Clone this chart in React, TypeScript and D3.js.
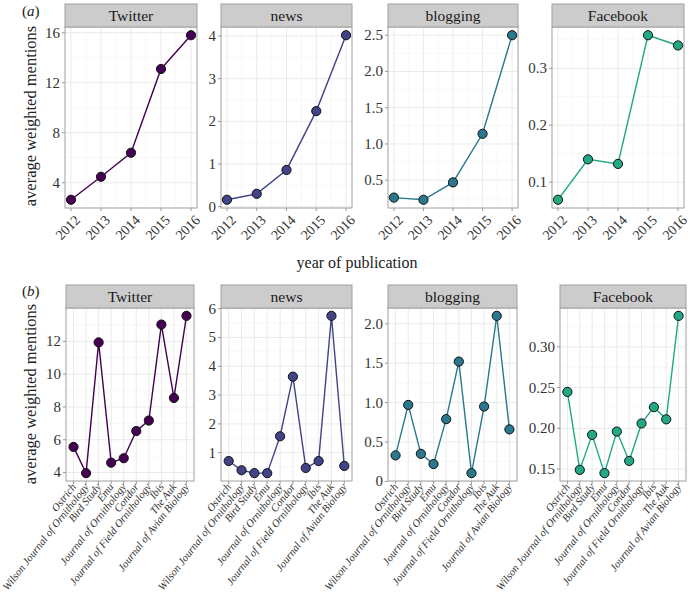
import React from 'react';
import * as d3 from 'd3';

// (a) by year of publication
const years = [2012, 2013, 2014, 2015, 2016];
const yearTwitter = [2.64, 4.48, 6.4, 13.1, 15.8];
const yearNews = [0.16, 0.3, 0.86, 2.24, 4.02];
const yearBlogging = [0.26, 0.23, 0.47, 1.14, 2.5];
const yearFacebook = [0.069, 0.14, 0.132, 0.358, 0.34];

// (b) by journal
const journals = [
  'Ostrich', 'Wilson Journal of Ornithology', 'Bird Study', 'Emu',
  'Journal of Ornithology', 'Condor', 'Journal of Field Ornithology',
  'Ibis', 'The Auk', 'Journal of Avian Biology',
];
const journalTwitter = [5.56, 3.96, 11.94, 4.6, 4.87, 6.53, 7.17, 13.03, 8.55, 13.56];
const journalNews = [0.71, 0.39, 0.29, 0.29, 1.57, 3.64, 0.47, 0.71, 5.75, 0.54];
const journalBlogging = [0.33, 0.97, 0.35, 0.22, 0.79, 1.52, 0.105, 0.95, 2.1, 0.66];
const journalFacebook = [0.2447, 0.149, 0.192, 0.145, 0.196, 0.16, 0.206, 0.226, 0.211, 0.338];

const mediaNames = ['Twitter', 'news', 'blogging', 'Facebook'];
const mediaColors = ['#440154', '#414487', '#2A788E', '#22A884'];

const yearTicks = [[4, 8, 12, 16], [0, 1, 2, 3, 4], [0.5, 1, 1.5, 2, 2.5], [0.1, 0.2, 0.3]];
const yearTickLabels = [['4', '8', '12', '16'], ['0', '1', '2', '3', '4'], ['0.5', '1.0', '1.5', '2.0', '2.5'], ['0.1', '0.2', '0.3']];
const journalTicks = [[4, 6, 8, 10, 12], [1, 2, 3, 4, 5, 6], [0, 0.5, 1, 1.5, 2], [0.15, 0.2, 0.25, 0.3]];
const journalTickLabels = [['4', '6', '8', '10', '12'], ['1', '2', '3', '4', '5', '6'], ['0', '0.5', '1.0', '1.5', '2.0'], ['0.15', '0.20', '0.25', '0.30']];

const FONT = 'Liberation Serif';

type PanelProps = {
  x0: number; x1: number; stripTop: number; plotTop: number; plotBottom: number;
  name: string; color: string; xs: (number | string)[]; ys: number[];
  ticks: number[]; tickLabels: string[]; discrete: boolean;
};

function Panel(p: PanelProps) {
  const ext = d3.extent(p.ys) as [number, number];
  const pad = (ext[1] - ext[0]) * 0.05;
  const y = d3.scaleLinear().domain([ext[0] - pad, ext[1] + pad]).range([p.plotBottom, p.plotTop]);
  const [lo, hi] = y.domain();
  const step = p.ticks[1] - p.ticks[0];
  const minorY = [p.ticks[0] - step / 2, ...p.ticks.map(t => t + step / 2)].filter(v => v >= lo && v <= hi);

  let xPos: (v: number | string) => number;
  const xMajor: (number | string)[] = p.xs;
  let xMinor: number[] = [];
  if (p.discrete) {
    const xs = d3.scalePoint<string>().domain(p.xs as string[]).range([p.x0, p.x1]).padding(0.6);
    xPos = v => xs(v as string) as number;
  } else {
    const nums = p.xs as number[];
    const e = d3.extent(nums) as [number, number];
    const xp = (e[1] - e[0]) * 0.05;
    const xl = d3.scaleLinear().domain([e[0] - xp, e[1] + xp]).range([p.x0, p.x1]);
    xPos = v => xl(v as number);
    xMinor = nums.slice(1).map(v => v - 0.5);
  }

  const line = d3.line<number>().x((_, i) => xPos(p.xs[i])).y(d => y(d));

  return (
    <g fontFamily={FONT}>
      <rect x={p.x0} y={p.plotTop} width={p.x1 - p.x0} height={p.plotBottom - p.plotTop} fill="#fff" />
      {minorY.map((v, i) => (
        <line key={'my' + i} x1={p.x0} x2={p.x1} y1={y(v)} y2={y(v)} stroke="#f3f3f3" strokeWidth={0.6} />
      ))}
      {xMinor.map((v, i) => (
        <line key={'mx' + i} x1={xPos(v)} x2={xPos(v)} y1={p.plotTop} y2={p.plotBottom} stroke="#f3f3f3" strokeWidth={0.6} />
      ))}
      {p.ticks.map((v, i) => (
        <line key={'gy' + i} x1={p.x0} x2={p.x1} y1={y(v)} y2={y(v)} stroke="#e6e6e6" strokeWidth={0.8} />
      ))}
      {xMajor.map((v, i) => (
        <line key={'gx' + i} x1={xPos(v)} x2={xPos(v)} y1={p.plotTop} y2={p.plotBottom} stroke="#e6e6e6" strokeWidth={0.8} />
      ))}
      <rect x={p.x0} y={p.plotTop} width={p.x1 - p.x0} height={p.plotBottom - p.plotTop} fill="none" stroke="#a0a0a0" strokeWidth={1} />
      <rect x={p.x0} y={p.stripTop} width={p.x1 - p.x0} height={p.plotTop - p.stripTop} fill="#cccccc" stroke="#a0a0a0" strokeWidth={1} />
      <text x={(p.x0 + p.x1) / 2} y={(p.stripTop + p.plotTop) / 2 + 5} textAnchor="middle" fontSize={15.5} fill="#1a1a1a">{p.name}</text>
      {p.ticks.map((v, i) => (
        <g key={'ty' + i}>
          <line x1={p.x0 - 3} x2={p.x0} y1={y(v)} y2={y(v)} stroke="#999" strokeWidth={1} />
          <text x={p.x0 - 5} y={y(v) + 5} textAnchor="end" fontSize={15} fill="#333">{p.tickLabels[i]}</text>
        </g>
      ))}
      {xMajor.map((v, i) => {
        const x = xPos(v);
        return (
          <g key={'tx' + i}>
            <line x1={x} x2={x} y1={p.plotBottom} y2={p.plotBottom + 3} stroke="#999" strokeWidth={1} />
            {p.discrete ? (
              <text transform={`translate(${x + 3},${p.plotBottom + 6}) rotate(-52)`} textAnchor="end" fontStyle="italic" fontSize={10.8} fill="#333">{String(v)}</text>
            ) : (
              <text transform={`translate(${x + 3},${p.plotBottom + 6}) rotate(-45)`} textAnchor="end" fontSize={14} fill="#333" dy="0.7em">{String(v)}</text>
            )}
          </g>
        );
      })}
      <path d={line(p.ys) || ''} fill="none" stroke={p.color} strokeWidth={1.4} />
      {p.ys.map((v, i) => (
        <circle key={'pt' + i} cx={xPos(p.xs[i])} cy={y(v)} r={4.6} fill={p.color} stroke="#111" strokeWidth={1} />
      ))}
    </g>
  );
}

const topLefts = [65, 221, 388, 552];
const topRights = [197, 352, 518, 684];
const botLefts = [66, 221, 388, 560];
const botRights = [194, 352, 517, 686];

export default function App() {
  const yearSeries = [yearTwitter, yearNews, yearBlogging, yearFacebook];
  const journalSeries = [journalTwitter, journalNews, journalBlogging, journalFacebook];
  return (
    <svg width={690} height={599} fontFamily={FONT} style={{ position: 'absolute', left: 0, top: 0, background: '#fff' }}>
      <rect width={690} height={599} fill="#fff" />
      <text x={22} y={16} fontSize={15} fill="#222">(<tspan fontStyle="italic">a</tspan>)</text>
      <text x={22} y={296} fontSize={15} fill="#222">(<tspan fontStyle="italic">b</tspan>)</text>
      <text transform="translate(36,116) rotate(-90)" textAnchor="middle" fontSize={16.5} fill="#222">average weighted mentions</text>
      <text transform="translate(36,394) rotate(-90)" textAnchor="middle" fontSize={16.5} fill="#222">average weighted mentions</text>
      <text x={357} y={268} textAnchor="middle" fontSize={16} fill="#222">year of publication</text>
      {mediaNames.map((m, i) => (
        <Panel key={'a' + m} x0={topLefts[i]} x1={topRights[i]} stripTop={4} plotTop={27} plotBottom={208}
          name={m} color={mediaColors[i]} xs={years} ys={yearSeries[i]}
          ticks={yearTicks[i]} tickLabels={yearTickLabels[i]} discrete={false} />
      ))}
      {mediaNames.map((m, i) => (
        <Panel key={'b' + m} x0={botLefts[i]} x1={botRights[i]} stripTop={285} plotTop={308} plotBottom={481}
          name={m} color={mediaColors[i]} xs={journals} ys={journalSeries[i]}
          ticks={journalTicks[i]} tickLabels={journalTickLabels[i]} discrete={true} />
      ))}
    </svg>
  );
}
